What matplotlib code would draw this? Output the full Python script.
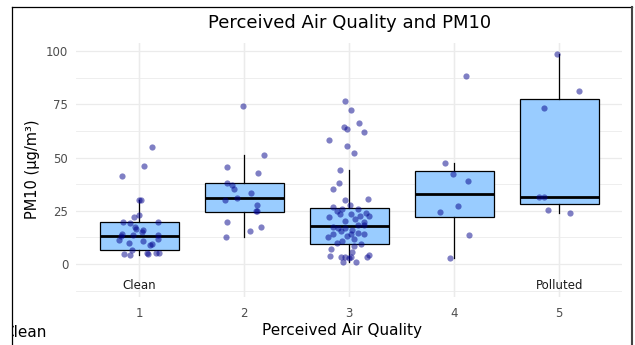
import numpy as np
import matplotlib.pyplot as plt
from matplotlib.lines import Line2D
from matplotlib.patches import Rectangle

plt.rcParams['font.family'] = ['DejaVu Sans']

# box statistics
positions = [1, 2, 3, 4, 5]
q1 = [6.7, 24.4, 9.2, 22.1, 28.3]
med = [13.1, 30.8, 17.8, 32.9, 31.6]
q3 = [19.6, 37.9, 26.1, 43.7, 77.5]
whislo = [4.2, 12.5, 0.8, 3.0, 23.8]
whishi = [30.2, 51.2, 44.1, 47.3, 98.4]

# jittered points: PM10 values and horizontal jitter offsets
pm1 = [55.0, 46.2, 41.5, 30.2, 30.2, 23.2, 22.2, 19.6, 19.1, 19.6, 17.2, 16.6, 16.1, 15.2,
       13.9, 13.0, 13.8, 13.5, 11.7, 11.3, 9.9, 10.9, 9.1, 9.5, 6.7, 4.5, 4.2, 5.0, 4.7, 5.0, 5.0]
jit1 = [0.124, 0.048, -0.165, 0.0, 0.019, -0.006, -0.053, -0.158, -0.086, 0.181, -0.044, -0.029,
        0.038, 0.029, -0.162, -0.174, -0.057, 0.181, 0.181, -0.19, -0.095, 0.032, 0.102, 0.121,
        -0.067, -0.143, -0.086, 0.076, 0.086, 0.159, 0.188]
pm2 = [74.3, 51.3, 45.4, 42.9, 38.0, 37.1, 35.1, 33.3, 30.8, 30.0, 27.7, 24.7, 24.7, 19.9,
       15.6, 17.2, 12.5]
jit2 = [-0.016, 0.19, -0.165, 0.133, -0.165, -0.117, -0.095, 0.06, -0.073, -0.18, 0.117, 0.108,
        0.117, -0.165, 0.054, 0.162, -0.171]
pm3 = [76.5, 72.2, 66.3, 64.2, 63.4, 62.0, 58.1, 55.3, 52.1, 44.3, 37.9, 35.4, 30.5, 29.9,
       26.9, 27.7, 25.0, 25.7, 25.7, 24.1, 22.2, 23.5, 23.5, 20.3, 21.0, 22.5, 22.7, 19.9,
       17.5, 17.0, 18.3, 18.3, 15.6, 17.0, 16.0, 14.7, 12.8, 14.1, 13.3, 14.1, 14.1, 10.0,
       10.9, 11.9, 9.2, 7.0, 3.9, 5.6, 8.5, 3.1, 3.1, 2.7, 3.4, 0.8, 0.8, 3.1, 4.1]
jit3 = [-0.04, 0.02, 0.09, -0.055, -0.026, 0.14, -0.19, -0.026, 0.045, -0.09, -0.096, -0.16,
        0.18, -0.04, -0.16, 0.01, -0.12, -0.07, 0.08, 0.16, -0.19, -0.09, 0.02, -0.04, 0.05,
        0.10, 0.19, 0.14, -0.16, -0.11, 0.08, 0.14, -0.08, -0.04, 0.03, 0.08, -0.20, -0.16,
        -0.02, 0.02, 0.14, -0.12, -0.065, 0.04, 0.11, -0.17, -0.18, 0.03, 0.045, -0.08, -0.04,
        0.0, 0.02, -0.06, 0.06, 0.17, 0.19]
pm4 = [88.1, 47.4, 42.1, 39.0, 27.2, 24.4, 13.6, 3.0]
jit4 = [0.108, -0.09, -0.01, 0.13, 0.034, -0.137, 0.139, -0.042]
pm5 = [98.4, 81.4, 73.2, 31.6, 31.6, 25.2, 23.8]
jit5 = [-0.019, 0.188, -0.143, -0.196, -0.143, -0.11, 0.102]

values = [pm1, pm2, pm3, pm4, pm5]
jitters = [jit1, jit2, jit3, jit4, jit5]
yticks = [0, 25, 50, 75, 100]

fig = plt.figure(figsize=(6.35, 3.45), dpi=100)
ax = fig.add_axes([76.3 / 635, 48 / 345, 546 / 635, 254 / 345])

ax.set_xlim(0.4, 5.6)
ax.set_ylim(-15.5, 103.8)
for s in ax.spines.values():
    s.set_visible(False)

ax.set_xticks(positions)
ax.set_yticks(yticks)
ax.set_yticks([-12.5, 12.5, 37.5, 62.5, 87.5], minor=True)
ax.tick_params(axis='both', which='both', length=0, labelsize=8.5, labelcolor='#4D4D4D')
ax.tick_params(axis='y', pad=5.8)
ax.tick_params(axis='x', pad=7.4)
ax.set_axisbelow(True)
ax.grid(which='major', color='#EBEBEB', linewidth=0.9)
ax.yaxis.grid(which='minor', color='#EBEBEB', linewidth=0.6)

stats = []
for i in range(5):
    stats.append(dict(q1=q1[i], med=med[i], q3=q3[i], whislo=whislo[i], whishi=whishi[i], fliers=[]))
ax.bxp(stats, positions=positions, widths=0.75, patch_artist=True, showcaps=False, showfliers=False,
       boxprops=dict(facecolor='#99CCFF', edgecolor='black', linewidth=0.9),
       medianprops=dict(color='black', linewidth=2.0),
       whiskerprops=dict(color='black', linewidth=0.9))

for p, v, j in zip(positions, values, jitters):
    ax.scatter(p + np.array(j), v, s=20, color='#00008B', alpha=0.5, linewidths=0, zorder=3)

ax.text(1, -10.1, 'Clean', ha='center', va='center', fontsize=8.5, color='#1A1A1A')
ax.text(5, -10.1, 'Polluted', ha='center', va='center', fontsize=8.5, color='#1A1A1A')

fig.text(350 / 635, 316.5 / 345, 'Perceived Air Quality and PM10', ha='center', va='baseline',
         fontsize=13, color='black')
fig.text(342 / 635, 9.5 / 345, 'Perceived Air Quality', ha='center', va='baseline', fontsize=11)
fig.text(32.5 / 635, 176 / 345, 'PM10 (µg/m³)', ha='center', va='center', rotation=90, fontsize=10.5)
fig.text(3 / 635, 8 / 345, 'Clean', ha='left', va='baseline', fontsize=11)

# screenshot frame
fig.add_artist(Rectangle((0, 0), 12 / 635, 1, transform=fig.transFigure, facecolor='white',
                         edgecolor='none', zorder=5))
fig.add_artist(Line2D([12 / 635, 12 / 635], [0, 338 / 345], transform=fig.transFigure,
                      color='black', linewidth=0.9, zorder=6))
fig.add_artist(Line2D([12 / 635, 632 / 635], [338 / 345, 338 / 345], transform=fig.transFigure,
                      color='black', linewidth=0.9, zorder=6))
fig.add_artist(Line2D([632 / 635, 632 / 635], [0, 338 / 345], transform=fig.transFigure,
                      color='#444444', linewidth=1.5, zorder=6))

fig.savefig('out.png', dpi=100)
